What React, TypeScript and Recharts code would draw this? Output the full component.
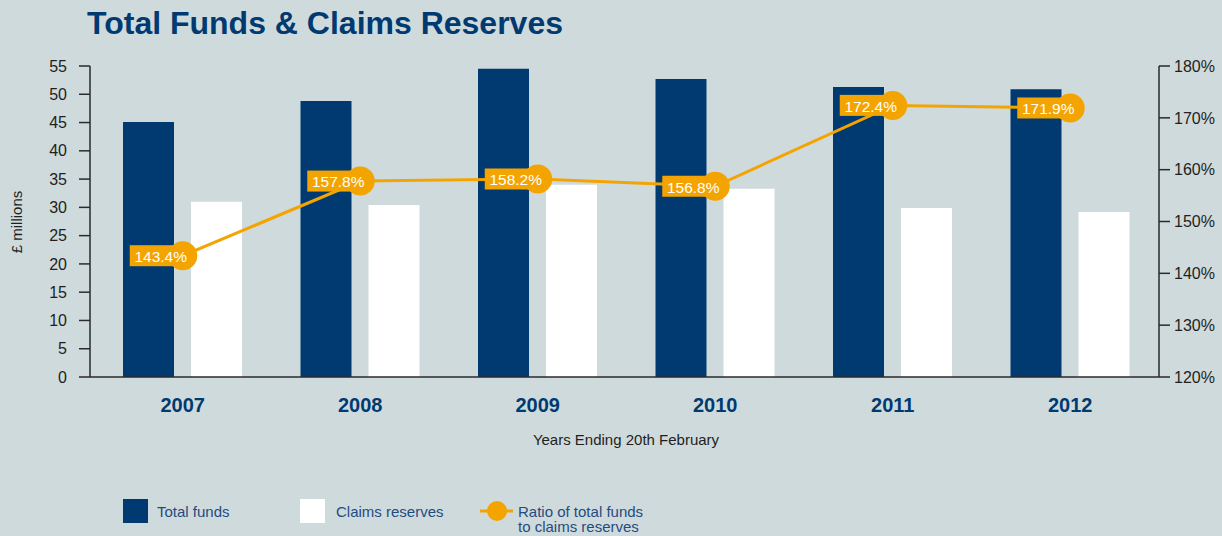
import React from 'react';
import { ComposedChart, Bar, Line, XAxis, YAxis } from 'recharts';

const years = ['2007', '2008', '2009', '2010', '2011', '2012'];
const totalFunds = [45.1, 48.8, 54.5, 52.7, 51.3, 50.9];
const claimsReserves = [31.0, 30.4, 34.0, 33.3, 29.9, 29.2];
const ratioPct = [143.4, 157.8, 158.2, 156.8, 172.4, 171.9];
const leftTicks = [0, 5, 10, 15, 20, 25, 30, 35, 40, 45, 50, 55];
const rightTicks = [120, 130, 140, 150, 160, 170, 180];

const data = years.map((y, i) => ({
  year: y,
  total: totalFunds[i],
  claims: claimsReserves[i],
  ratio: ratioPct[i],
}));

const BG = '#cfdadd';
const NAVY = '#003a70';
const ORANGE = '#f4a400';
const AXIS = '#2a2a2a';
const FONT = '"Liberation Sans", Arial, Helvetica, sans-serif';
const LEGEND_TEXT = '#1f4c80';

const RatioDot = (props: any) => {
  const { cx, cy, payload, index } = props;
  if (cx == null || cy == null) return null;
  return (
    <g key={`rd-${index}`}>
      <rect x={cx - 53} y={cy - 10.5} width={53} height={21} fill={ORANGE} />
      <circle cx={cx} cy={cy} r={14.5} fill={ORANGE} />
      <text
        x={cx - 22}
        y={cy + 1}
        dy="0.35em"
        textAnchor="middle"
        fill="#ffffff"
        fontSize={15.5}
        fontFamily={FONT}
      >
        {payload.ratio.toFixed(1)}%
      </text>
    </g>
  );
};

const YearTick = (props: any) => {
  const { x, y, payload } = props;
  return (
    <text
      x={x}
      y={y + 28}
      dy="0.35em"
      textAnchor="middle"
      fill={NAVY}
      fontSize={20}
      fontWeight="bold"
      fontFamily={FONT}
    >
      {payload.value}
    </text>
  );
};

export default function App() {
  return (
    <div style={{ position: 'relative', width: 1222, height: 536, background: BG }}>
      <style>{`body{margin:0;}`}</style>
      <ComposedChart
        width={1222}
        height={536}
        data={data}
        margin={{ top: 66, right: 0, left: 10, bottom: 129 }}
        barSize={51}
        barGap={17}
      >
        <XAxis
          dataKey="year"
          xAxisId="x"
          padding={{ left: 4, right: 0 }}
          axisLine={{ stroke: AXIS, strokeWidth: 1.5 }}
          tickLine={false}
          tickSize={0}
          tickMargin={0}
          height={30}
          tick={<YearTick />}
          interval={0}
        />
        <YAxis
          yAxisId="left"
          domain={[0, 55]}
          ticks={leftTicks}
          interval={0}
          width={80}
          tickSize={11}
          tickMargin={12}
          axisLine={{ stroke: AXIS, strokeWidth: 1.5 }}
          tickLine={{ stroke: AXIS, strokeWidth: 1.5 }}
          tick={{ fill: '#231f20', fontSize: 16, fontFamily: FONT }}
          allowDataOverflow
        />
        <YAxis
          yAxisId="right"
          orientation="right"
          domain={[120, 180]}
          ticks={rightTicks}
          interval={0}
          width={63}
          tickSize={11}
          tickMargin={4}
          tickFormatter={(v: number) => `${v}%`}
          axisLine={{ stroke: AXIS, strokeWidth: 1.5 }}
          tickLine={{ stroke: AXIS, strokeWidth: 1.5 }}
          tick={{ fill: '#231f20', fontSize: 16, fontFamily: FONT }}
          allowDataOverflow
        />
        <Bar xAxisId="x" yAxisId="left" dataKey="total" fill={NAVY} isAnimationActive={false} />
        <Bar xAxisId="x" yAxisId="left" dataKey="claims" fill="#ffffff" isAnimationActive={false} />
        <Line
          xAxisId="x"
          yAxisId="right"
          dataKey="ratio"
          type="linear"
          stroke={ORANGE}
          strokeWidth={3}
          dot={(p: any) => <RatioDot {...p} />}
          activeDot={false}
          isAnimationActive={false}
        />
      </ComposedChart>
      <svg
        width={1222}
        height={536}
        style={{ position: 'absolute', left: 0, top: 0, pointerEvents: 'none' }}
      >
        <text x={87} y={34} fill={NAVY} fontSize={32} fontWeight="bold" fontFamily={FONT}>
          Total Funds &amp; Claims Reserves
        </text>
        <text
          transform="translate(22,222) rotate(-90)"
          textAnchor="middle"
          fill="#231f20"
          fontSize={15}
          fontFamily={FONT}
        >
          £ millions
        </text>
        <text x={626} y={445} textAnchor="middle" fill="#231f20" fontSize={15} fontFamily={FONT}>
          Years Ending 20th February
        </text>
        <rect x={123} y={499} width={25} height={24} fill={NAVY} />
        <text x={157} y={517} fill={LEGEND_TEXT} fontSize={15} fontFamily={FONT}>
          Total funds
        </text>
        <rect x={300} y={499} width={25} height={24} fill="#ffffff" />
        <text x={336} y={517} fill={LEGEND_TEXT} fontSize={15} fontFamily={FONT}>
          Claims reserves
        </text>
        <line x1={480} y1={511} x2={513} y2={511} stroke={ORANGE} strokeWidth={3} />
        <circle cx={497} cy={511} r={10} fill={ORANGE} />
        <text x={518} y={517} fill={LEGEND_TEXT} fontSize={15} fontFamily={FONT}>
          Ratio of total funds
        </text>
        <text x={518} y={532} fill={LEGEND_TEXT} fontSize={15} fontFamily={FONT}>
          to claims reserves
        </text>
      </svg>
    </div>
  );
}
